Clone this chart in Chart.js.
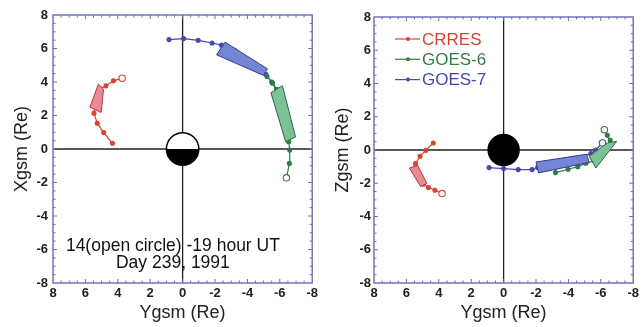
<!DOCTYPE html>
<html>
<head>
<meta charset="utf-8">
<script src="https://cdn.jsdelivr.net/npm/chart.js@4/dist/chart.umd.min.js"></script>
<style>
  body { margin: 0; background: #fff; }
  .panel { position: absolute; top: 0; width: 321px; height: 327px; }
</style>
</head>
<body>
<div class="panel" style="left:0"><canvas id="xyChart" width="321" height="327"></canvas></div>
<div class="panel" style="left:321px"><canvas id="yzChart" width="321" height="327"></canvas></div>
<script>
const seriesNames = ['CRRES', 'GOES-6', 'GOES-7'];
const axisTicks = [8, 6, 4, 2, 0, -2, -4, -6, -8];

// left panel: [Ygsm, Xgsm], first point is 14 UT (open circle)
const crresXY = [[3.73, 4.23], [4.27, 4.07], [4.73, 3.77], [5.07, 3.6], [5.3, 2.9], [5.47, 2.14], [5.27, 1.54], [4.87, 0.98], [4.33, 0.34]];
const goes6XY = [[-6.41, -1.72], [-6.59, -0.86], [-6.61, -0.06], [-6.55, 0.44], [-6.4, 1.4], [-6.1, 2.5], [-5.81, 3.57], [-5.55, 3.93], [-5.21, 4.33], [-4.6, 4.8]];
const goes7XY = [[-6.04, 2.63], [-5.8, 3.5], [-5.5, 4.0], [-5.15, 4.45], [-4.2, 5.2], [-3.2, 5.9], [-2.4, 6.2], [-1.82, 6.33], [-0.96, 6.49], [-0.06, 6.59], [0.84, 6.53]];
const crresBoxXY = [[5.2, 3.87], [5.72, 2.5], [5.03, 2.18], [4.88, 3.57]];
const goes6BoxXY = [[-5.45, 3.36], [-6.16, 3.78], [-6.97, 0.72], [-6.36, 0.44]];
const goes7BoxXY = [[-2.62, 6.38], [-5.24, 4.78], [-4.98, 4.4], [-2.1, 5.62]];

// right panel: [Ygsm, Zgsm]
const crresYZ = [[3.8, -2.62], [4.24, -2.42], [4.64, -2.26], [4.95, -2.05], [5.3, -1.4], [5.44, -0.82], [5.16, -0.38], [4.8, -0.02], [4.34, 0.42]];
const goes6YZ = [[-6.22, 1.22], [-6.4, 0.88], [-6.58, 0.58], [-6.2, -0.1], [-5.6, -0.65], [-5.08, -0.8], [-4.58, -1.0], [-3.98, -1.16], [-3.2, -1.36]];
const goes7YZ = [[-6.1, 0.42], [-5.68, 0.0], [-5.38, -0.22], [-4.4, -0.5], [-3.2, -0.8], [-2.1, -1.05], [-1.76, -1.18], [-0.9, -1.18], [0.0, -1.12], [0.9, -1.06]];
const crresBoxYZ = [[5.82, -1.08], [5.3, -0.93], [4.74, -2.0], [5.12, -2.2]];
const goes6BoxYZ = [[-5.28, -0.38], [-6.4, 0.42], [-6.98, 0.52], [-5.7, -1.08]];
const goes7BoxYZ = [[-2.0, -0.72], [-5.12, -0.26], [-5.28, -0.74], [-2.16, -1.38]];

const lineColors = ['#d9432f', '#2f7d43', '#4848b0'];
const boxFills = ['#e98b95', '#7dc198', '#7585d6'];
const boxEdges = ['#b83438', '#2a6a3a', '#37378a'];
const FONT = '"Liberation Sans", Arial, Helvetica, sans-serif';

const pts = arr => arr.map(p => ({ x: p[0], y: p[1] }));

function track(label, arr, i) {
  return {
    label: label,
    data: pts(arr),
    showLine: true,
    borderColor: lineColors[i],
    borderWidth: 1.2,
    pointRadius: c => c.dataIndex === 0 ? 3.2 : 2,
    pointBackgroundColor: c => c.dataIndex === 0 ? '#fff' : lineColors[i],
    pointBorderColor: lineColors[i],
    pointBorderWidth: 1.1,
    order: 1
  };
}

function box(arr, i) {
  const d = pts(arr);
  d.push(d[0]);
  return {
    label: 'box',
    data: d,
    showLine: true,
    fill: 'shape',
    backgroundColor: boxFills[i],
    borderColor: boxEdges[i],
    borderWidth: 1,
    pointRadius: 0,
    order: 0
  };
}

const framePlugin = {
  id: 'frame',
  beforeDatasetsDraw(chart, args, opts) {
    const { ctx, chartArea: a, scales: { x, y } } = chart;
    const cx = x.getPixelForValue(0), cy = y.getPixelForValue(0);
    ctx.save();
    ctx.strokeStyle = '#222';
    ctx.lineWidth = 1.3;
    ctx.beginPath();
    ctx.moveTo(cx, a.top); ctx.lineTo(cx, a.bottom);
    ctx.moveTo(a.left, cy); ctx.lineTo(a.right, cy);
    ctx.stroke();
    // Earth, radius 1 Re
    const r = Math.abs(x.getPixelForValue(1) - cx);
    if (opts.dayside) {
      ctx.fillStyle = '#fff';
      ctx.beginPath(); ctx.arc(cx, cy, r, 0, Math.PI * 2); ctx.fill();
      ctx.strokeStyle = '#000'; ctx.lineWidth = 1.5; ctx.stroke();
      ctx.fillStyle = '#000';
      ctx.beginPath(); ctx.arc(cx, cy, r, 0, Math.PI); ctx.closePath(); ctx.fill();
    } else {
      ctx.fillStyle = '#000';
      ctx.beginPath(); ctx.arc(cx, cy, r, 0, Math.PI * 2); ctx.fill();
    }
    ctx.restore();
  },
  afterDraw(chart, args, opts) {
    const { ctx, chartArea: a, scales: { x, y } } = chart;
    ctx.save();
    ctx.strokeStyle = '#6b6bbb';
    ctx.lineWidth = 1.4;
    ctx.strokeRect(a.left, a.top, a.right - a.left, a.bottom - a.top);
    ctx.lineWidth = 1;
    ctx.beginPath();
    for (let v = -7.5; v < 8; v += 0.5) {
      const len = v % 2 === 0 ? 4 : 2.5;
      const px = x.getPixelForValue(v), py = y.getPixelForValue(v);
      ctx.moveTo(px, a.top); ctx.lineTo(px, a.top + len);
      ctx.moveTo(px, a.bottom); ctx.lineTo(px, a.bottom - len);
      ctx.moveTo(a.left, py); ctx.lineTo(a.left + len, py);
      ctx.moveTo(a.right, py); ctx.lineTo(a.right - len, py);
    }
    ctx.stroke();

    if (opts.note) {
      ctx.fillStyle = '#111';
      ctx.font = '17.5px ' + FONT;
      ctx.textAlign = 'center';
      ctx.textBaseline = 'middle';
      opts.note.forEach((t, k) => {
        ctx.fillText(t, x.getPixelForValue(0.6), y.getPixelForValue(-5.8 - k * 1.03));
      });
    }

    if (opts.legend) {
      ctx.font = '17px ' + FONT;
      ctx.textAlign = 'left';
      ctx.textBaseline = 'middle';
      seriesNames.forEach((name, i) => {
        const ly = a.top + 22 + i * 20.3;
        ctx.strokeStyle = lineColors[i];
        ctx.lineWidth = 1.2;
        ctx.beginPath(); ctx.moveTo(a.left + 21, ly); ctx.lineTo(a.left + 46, ly); ctx.stroke();
        ctx.fillStyle = lineColors[i];
        ctx.beginPath(); ctx.arc(a.left + 34, ly, 2, 0, Math.PI * 2); ctx.fill();
        ctx.fillText(name, a.left + 48, ly + 1);
      });
    }
    ctx.restore();
  }
};

function makeChart(id, datasets, yTitle, top, tickPad, frameOpts) {
  return new Chart(document.getElementById(id), {
    type: 'scatter',
    data: { datasets: datasets },
    plugins: [framePlugin],
    options: {
      responsive: false,
      animation: false,
      layout: { padding: { left: 0, right: 1, top: top, bottom: 0 } },
      plugins: { legend: { display: false }, tooltip: { enabled: false }, frame: frameOpts },
      scales: {
        x: {
          type: 'linear', min: -8, max: 8, reverse: true,
          afterBuildTicks: s => { s.ticks = axisTicks.map(v => ({ value: v })); },
          afterFit: s => { s.height = 44; },
          grid: { display: false, drawTicks: false },
          border: { display: false },
          ticks: { color: '#222', padding: 3, maxRotation: 0, autoSkip: false, font: { family: FONT, size: 13, weight: 'bold' } },
          title: { display: true, text: 'Ygsm (Re)', color: '#222', padding: { top: 0, bottom: 3 }, font: { family: FONT, size: 18 } }
        },
        y: {
          type: 'linear', min: -8, max: 8,
          afterBuildTicks: s => { s.ticks = axisTicks.map(v => ({ value: v })); },
          afterFit: s => { s.width = 53; },
          grid: { display: false, drawTicks: false },
          border: { display: false },
          ticks: { color: '#222', padding: tickPad, autoSkip: false, font: { family: FONT, size: 13, weight: 'bold' } },
          title: { display: true, text: yTitle, color: '#222', padding: { top: 11, bottom: 0 }, font: { family: FONT, size: 18 } }
        }
      }
    }
  });
}

makeChart('xyChart', [
  track(seriesNames[0], crresXY, 0),
  track(seriesNames[1], goes6XY, 1),
  track(seriesNames[2], goes7XY, 2),
  box(crresBoxXY, 0),
  box(goes6BoxXY, 1),
  box(goes7BoxXY, 2)
], 'Xgsm (Re)', 15, 5, { dayside: true, note: ['14(open circle) -19 hour UT', 'Day 239, 1991'] });

makeChart('yzChart', [
  track(seriesNames[0], crresYZ, 0),
  track(seriesNames[1], goes6YZ, 1),
  track(seriesNames[2], goes7YZ, 2),
  box(crresBoxYZ, 0),
  box(goes6BoxYZ, 1),
  box(goes7BoxYZ, 2)
], 'Zgsm (Re)', 17, 3, { dayside: false, legend: true });
</script>
</body>
</html>
